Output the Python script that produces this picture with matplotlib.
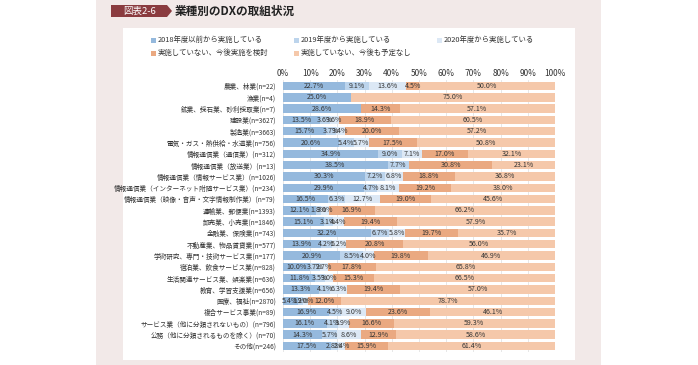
import matplotlib.pyplot as plt
from matplotlib.patches import Rectangle, Polygon

plt.rcParams['font.family'] = ['Noto Sans CJK JP', 'DejaVu Sans']

industries = [
    '農業、林業(n=22)', '漁業(n=4)', '鉱業、採石業、砂利採取業(n=7)', '建設業(n=3627)',
    '製造業(n=3663)', '電気・ガス・熱供給・水道業(n=756)', '情報通信業（通信業）(n=312)',
    '情報通信業（放送業）(n=13)', '情報通信業（情報サービス業）(n=1026)',
    '情報通信業（インターネット附随サービス業）(n=234)',
    '情報通信業（映像・音声・文字情報制作業）(n=79)', '運輸業、郵便業(n=1393)',
    '卸売業、小売業(n=1846)', '金融業、保険業(n=743)', '不動産業、物品賃貸業(n=577)',
    '学術研究、専門・技術サービス業(n=177)', '宿泊業、飲食サービス業(n=828)',
    '生活関連サービス業、娯楽業(n=636)', '教育、学習支援業(n=656)', '医療、福祉(n=2870)',
    '複合サービス事業(n=89)', 'サービス業（他に分類されないもの）(n=796)',
    '公務（他に分類されるものを除く）(n=70)', 'その他(n=246)',
]

since_2018 = [22.7, 25.0, 28.6, 13.5, 15.7, 20.6, 34.9, 38.5, 30.3, 29.9, 16.5, 12.1,
              15.1, 32.2, 13.9, 20.9, 10.0, 11.8, 13.3, 5.4, 16.9, 16.1, 14.3, 17.5]
since_2019 = [9.1, 0, 0, 3.6, 3.7, 5.4, 9.0, 7.7, 7.2, 4.7, 6.3, 1.8,
              3.1, 6.7, 4.2, 8.5, 3.7, 3.5, 4.1, 1.9, 4.5, 4.1, 5.7, 2.8]
since_2020 = [13.6, 0, 0, 3.6, 3.4, 5.7, 7.1, 0, 6.8, 8.1, 12.7, 3.0,
              4.4, 5.8, 5.2, 4.0, 2.7, 3.0, 6.3, 2.0, 9.0, 3.9, 8.6, 2.4]
planning = [4.5, 0, 14.3, 18.9, 20.0, 17.5, 17.0, 30.8, 18.8, 19.2, 19.0, 16.9,
            19.4, 19.7, 20.8, 19.8, 17.8, 15.3, 19.4, 12.0, 23.6, 16.6, 12.9, 15.9]
no_plan = [50.0, 75.0, 57.1, 60.5, 57.2, 50.8, 32.1, 23.1, 36.8, 38.0, 45.6, 66.2,
           57.9, 35.7, 56.0, 46.9, 65.8, 66.5, 57.0, 78.7, 46.1, 59.3, 58.6, 61.4]

series_labels = ['2018年度以前から実施している', '2019年度から実施している', '2020年度から実施している',
                 '実施していない、今後実施を検討', '実施していない、今後も予定なし']
colors = ['#95b9dd', '#bcd4ec', '#dce8f5', '#eaa981', '#f5c8aa']
ticks = [0, 10, 20, 30, 40, 50, 60, 70, 80, 90, 100]

W, H = 698, 365
fig = plt.figure(figsize=(W / 100, H / 100), dpi=100)

# background frame, pixel coordinates from top-left
bg = fig.add_axes([0, 0, 1, 1])
bg.set_xlim(0, W)
bg.set_ylim(H, 0)
bg.axis('off')
bg.add_patch(Rectangle((96, 0), 505, H, color='#f2e9e8', lw=0))
bg.add_patch(Rectangle((123, 28), 452, 332, color='white', lw=0))
bg.add_patch(Polygon([(111, 5), (167, 5), (172, 11), (167, 17), (111, 17)],
                     closed=True, color='#8a3b3f', lw=0))
bg.text(139.5, 11.2, '図表2-6', color='white', fontsize=6.8, ha='center', va='center')
bg.text(175, 11, '業種別のDXの取組状況', color='#222222', fontsize=8.4,
        fontweight='bold', ha='left', va='center')

# legend, laid out by hand (3 columns, 2 rows)
leg_x = [151, 294, 437, 151, 294]
leg_y = [40, 40, 40, 53, 53]
for lx, ly, col, lab in zip(leg_x, leg_y, colors, series_labels):
    bg.add_patch(Rectangle((lx, ly - 2.5), 5, 5, color=col, lw=0))
    bg.text(lx + 7, ly, lab, fontsize=5.3, color='#333333', ha='left', va='center')

# chart axes
top, bottom = 80.4, 351.6
ax = fig.add_axes([283 / W, 1 - bottom / H, 272 / W, (bottom - top) / H])
ax.set_facecolor('white')

values = [since_2018, since_2019, since_2020, planning, no_plan]
ypos = list(range(len(industries)))
left = [0.0] * len(industries)
for vals, col, lab in zip(values, colors, series_labels):
    ax.barh(ypos, vals, left=left, height=0.75, color=col, label=lab, zorder=2)
    for y, v, l in zip(ypos, vals, left):
        if v > 0:
            ax.text(l + v / 2, y, f'{v:.1f}%', ha='center', va='center',
                    fontsize=5.1, color='#333333', zorder=3)
    left = [a + b for a, b in zip(left, vals)]

ax.set_xlim(0, 100)
ax.set_ylim(len(industries) - 0.5, -0.5)
ax.set_xticks(ticks)
ax.set_xticklabels([f'{t}%' for t in ticks], fontsize=6.0, color='#333333')
ax.xaxis.tick_top()
ax.tick_params(axis='x', length=0, pad=1.5)
ax.set_yticks(ypos)
ax.set_yticklabels(industries, fontsize=4.75, color='#333333')
ax.tick_params(axis='y', length=0, pad=5)
ax.grid(axis='x', color='#e3e3e3', lw=0.6, zorder=0)
for s in ax.spines.values():
    s.set_visible(False)

fig.savefig('out.png', dpi=100)
